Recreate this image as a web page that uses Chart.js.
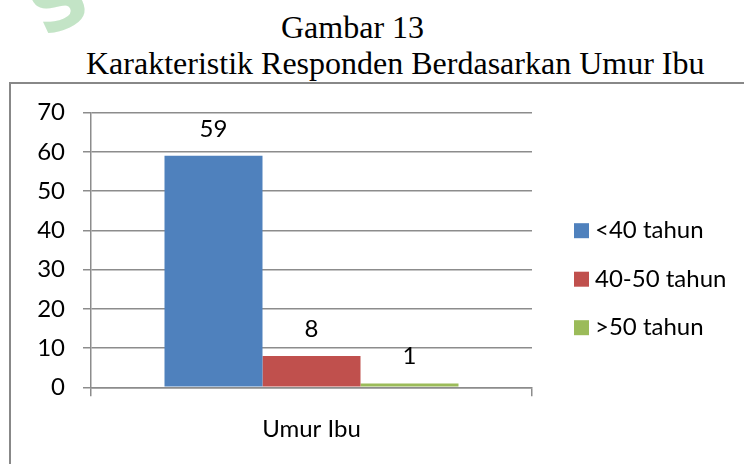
<!DOCTYPE html>
<html>
<head>
<meta charset="utf-8">
<script src="https://cdn.jsdelivr.net/npm/chart.js@4.4.0/dist/chart.umd.min.js"></script>
<style>
  html, body { margin: 0; padding: 0; background: #fff; }
  #page { position: relative; width: 744px; height: 464px; overflow: hidden; }
  .judul { position: absolute; font-family: "Liberation Serif", "Times New Roman", serif; font-size: 32px; line-height: 32px; color: #000; white-space: nowrap; }
  #kotak { position: absolute; left: 9px; top: 82px; width: 800px; height: 500px; border-top: 2px solid #888; border-left: 2px solid #888; }
  #tanda { position: absolute; left: 30px; top: -37px; font-family: "DejaVu Sans", sans-serif; font-weight: bold; font-size: 78px; line-height: 78px; color: #c3e4c6; transform: rotate(-25deg); }
  #grafik { position: absolute; left: 0; top: 0; }
</style>
</head>
<body>
<div id="page">
  <div id="tanda">S</div>
  <div class="judul" style="left:281px; top:11px;">Gambar 13</div>
  <div class="judul" style="left:86px; top:47px;">Karakteristik Responden Berdasarkan Umur Ibu</div>
  <div id="kotak"></div>
  <canvas id="grafik" width="744" height="464"></canvas>
</div>
<script>
// data
const kategori = ["Umur Ibu"];
const kelompokUmur = ["<40 tahun", "40-50 tahun", ">50 tahun"];
const jumlah = [59, 8, 1];
const warna = ["#4F81BD", "#C0504D", "#9BBB59"];
const yTicks = [0, 10, 20, 30, 40, 50, 60, 70];

const FONT = "Lato";
const abu = "#8c8c8c";

// angka di atas batang
const labelNilai = {
    id: "labelNilai",
    afterDatasetsDraw(chart) {
        const ctx = chart.ctx;
        ctx.save();
        ctx.font = "24px " + FONT;
        ctx.fillStyle = "#000";
        ctx.textAlign = "center";
        ctx.textBaseline = "alphabetic";
        chart.data.datasets.forEach((ds, i) => {
            chart.getDatasetMeta(i).data.forEach((bar, j) => {
                ctx.fillText(String(ds.data[j]), bar.x, bar.y - 19);
            });
        });
        ctx.restore();
    }
};

// legenda di kanan
const legendaKanan = {
    id: "legendaKanan",
    afterDraw(chart) {
        const ctx = chart.ctx;
        const area = chart.chartArea;
        const x = area.right + 42;
        ctx.save();
        ctx.font = "24px " + FONT;
        ctx.textBaseline = "alphabetic";
        ctx.textAlign = "left";
        chart.data.datasets.forEach((ds, i) => {
            const y = area.top + 110.5 + i * 48.5;
            ctx.fillStyle = ds.backgroundColor;
            ctx.fillRect(x, y, 15, 15);
            ctx.fillStyle = "#000";
            ctx.fillText(ds.label, x + 21, y + 15);
        });
        ctx.restore();
    }
};

document.fonts.load("24px " + FONT).then(buatGrafik, buatGrafik);

function buatGrafik() {
    const ctx = document.getElementById("grafik").getContext("2d");
    new Chart(ctx, {
        type: "bar",
        data: {
            labels: kategori,
            datasets: kelompokUmur.map((nama, i) => ({
                label: nama,
                data: [jumlah[i]],
                backgroundColor: warna[i],
                borderWidth: 0,
                categoryPercentage: 2 / 3,
                barPercentage: 1.0
            }))
        },
        options: {
            responsive: false,
            animation: false,
            layout: { padding: { left: 0, top: 112.7, right: 212, bottom: 0 } },
            plugins: {
                legend: { display: false },
                tooltip: { enabled: false }
            },
            scales: {
                x: {
                    afterFit: s => { s.height = 76.7; },
                    grid: { offset: true, drawOnChartArea: false, color: abu, lineWidth: 1.5, tickLength: 9 },
                    border: { display: true, color: abu, width: 1.5 },
                    ticks: { color: "#000", font: { family: FONT, size: 24 }, padding: 19 }
                },
                y: {
                    min: 0,
                    max: 70,
                    afterFit: s => { s.width = 91; },
                    afterBuildTicks: s => { s.ticks = yTicks.map(v => ({ value: v })); },
                    grid: { color: abu, lineWidth: 1.5, tickLength: 8 },
                    border: { display: true, color: abu, width: 1.5 },
                    ticks: { color: "#000", font: { family: FONT, size: 24 }, padding: 18 }
                }
            }
        },
        plugins: [labelNilai, legendaKanan]
    });
}
</script>
</body>
</html>
